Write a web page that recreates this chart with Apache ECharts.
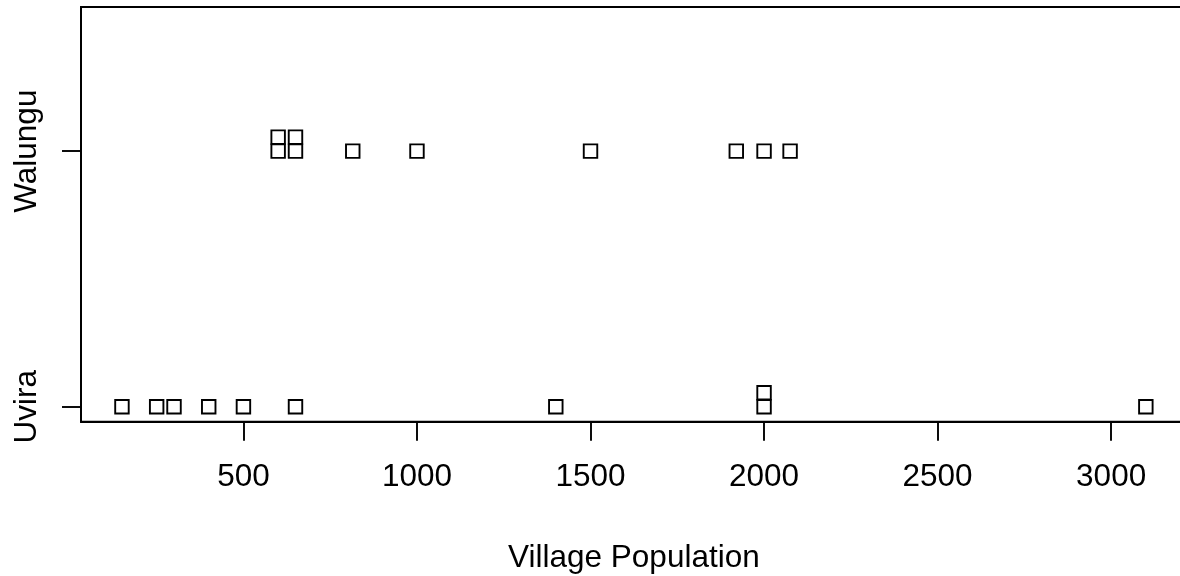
<!DOCTYPE html>
<html>
<head>
<meta charset="utf-8">
<script src="https://cdn.jsdelivr.net/npm/echarts@6/dist/echarts.min.js"></script>
<style>
  html, body { margin: 0; padding: 0; background: #fff; }
  #chart { width: 1180px; height: 576px; }
</style>
</head>
<body>
<div id="chart"></div>
<script>
// Village populations per district
const groupNames = ['Uvira', 'Walungu'];
const uvira = [150, 250, 300, 400, 500, 650, 1400, 2000, 2000, 3100];
const walungu = [600, 600, 650, 650, 815, 1000, 1500, 1920, 2000, 2075];
const xTicks = [500, 1000, 1500, 2000, 2500, 3000];

// Stacked strip plot: repeated values pile upward from the group baseline
const STACK_STEP = 0.0548;
function stackPoints(values, level) {
  const seen = {};
  return values.map(v => {
    const k = seen[v] || 0;
    seen[v] = k + 1;
    return [v, level + k * STACK_STEP];
  });
}
const points = stackPoints(uvira, 1).concat(stackPoints(walungu, 2));

const FONT = '"Liberation Sans", Arial, Helvetica, sans-serif';
const FS = 31.5;
const chart = echarts.init(document.getElementById('chart'), null, { renderer: 'canvas' });
chart.setOption({
  animation: false,
  backgroundColor: '#ffffff',
  grid: {
    left: 81, top: 7, width: 1105.8, height: 414.7,
    outerBoundsMode: 'none',
    containLabel: false,
    show: true, borderColor: '#000', borderWidth: 1.9, backgroundColor: 'transparent'
  },
  xAxis: {
    type: 'value',
    min: 32, max: 3218,
    name: 'Village Population',
    nameLocation: 'middle',
    nameGap: 121,
    nameTextStyle: { fontFamily: FONT, fontSize: FS, color: '#000' },
    splitLine: { show: false },
    axisLine: { show: true, lineStyle: { color: '#000', width: 1.9 } },
    axisTick: { show: true, customValues: xTicks, length: 19, lineStyle: { color: '#000', width: 1.9 } },
    axisLabel: {
      customValues: xTicks, margin: 40,
      fontFamily: FONT, fontSize: FS, color: '#000',
      formatter: v => String(v)
    }
  },
  yAxis: {
    type: 'value',
    min: 0.9417, max: 2.564,
    splitLine: { show: false },
    axisLine: { show: true, lineStyle: { color: '#000', width: 1.9 } },
    axisTick: { show: true, customValues: [1, 2], length: 19, lineStyle: { color: '#000', width: 1.9 } },
    axisLabel: {
      customValues: [1, 2], rotate: 90, margin: 38,
      fontFamily: FONT, fontSize: FS, color: '#000',
      formatter: v => groupNames[Math.round(v) - 1]
    }
  },
  series: [{
    type: 'scatter',
    data: points,
    symbol: 'rect',
    symbolSize: 13.5,
    silent: true,
    clip: false,
    itemStyle: { color: 'rgba(0,0,0,0)', borderColor: '#000', borderWidth: 1.9, opacity: 1 },
    emphasis: { disabled: true }
  }]
});
</script>
</body>
</html>
